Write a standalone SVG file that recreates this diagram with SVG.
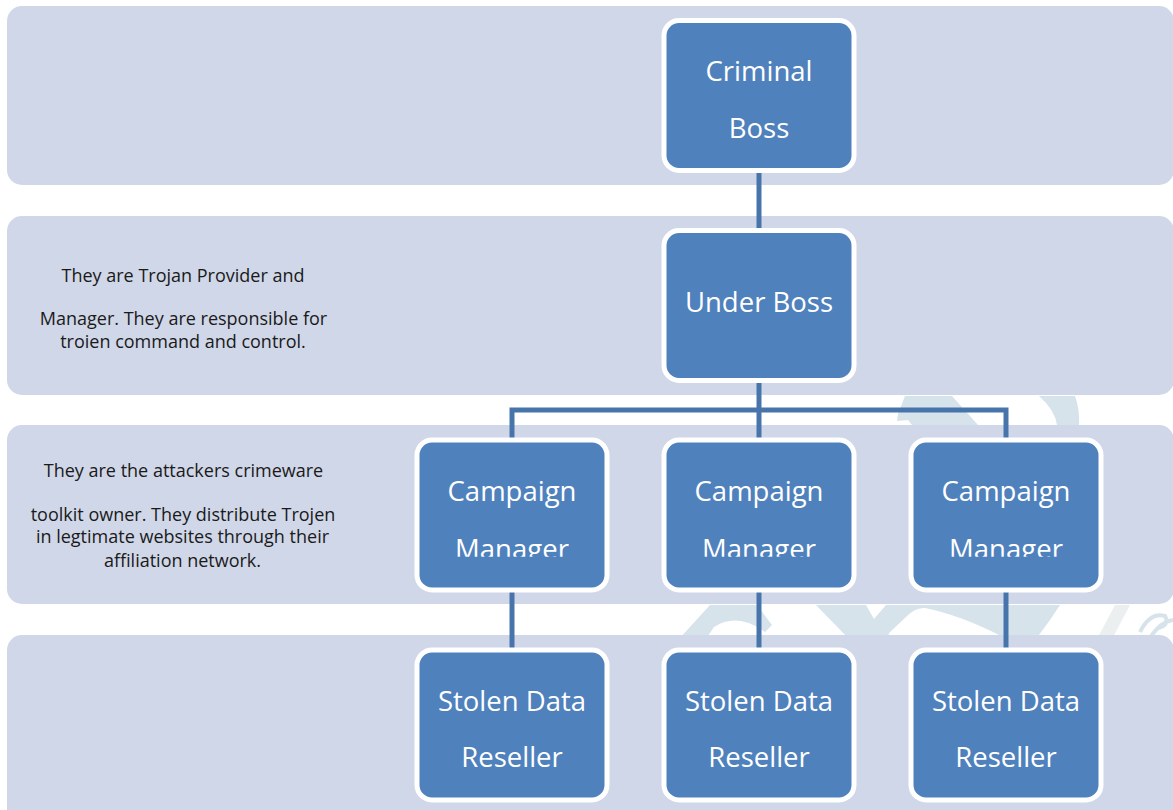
<svg xmlns="http://www.w3.org/2000/svg" width="1173" height="810" viewBox="0 0 1173 810">
<style>
.band{fill:#D0D7E8}
.wm{fill:#D7E3EB}
.node rect{fill:#4F81BD;stroke:#FFFFFF;stroke-width:5}
.nt{font-family:"Open Sans","Liberation Sans",sans-serif;font-size:27.5px;fill:#FFFFFF;text-anchor:middle}
.lt{font-family:"Open Sans","Liberation Sans",sans-serif;font-size:18px;fill:#1A1A1A;text-anchor:middle}
.conn{stroke:#4874AC;stroke-width:5;fill:none}
</style>
<defs>
<clipPath id="clipB2"><rect x="0" y="216" width="400" height="133.5"/></clipPath>
<clipPath id="clipCM"><rect x="0" y="437" width="1173" height="119.7"/></clipPath>
</defs>
<rect width="1173" height="810" fill="#FFFFFF"/>
<g id="watermark">
<path class="wm" d="M905 396 L952 396 L978 425 L912 425 L908 420 L897 421 L898 414 Z"/>
<path class="wm" d="M1039 396 L1075 396 Q1080 410 1079 425 L1057 425 Q1055 410 1039 396 Z"/>
<path class="wm" d="M679 639 L710 605 L757 605 L772 625 L765 632 Q738 612 714 627 L706 639 Z"/>
<path class="wm" d="M816 605 L866 605 L874 619 L886 605 L1060 605 L1050 620 L1036 639 L1002 639 L1001 636 Q960 615 925 608 Q915 607 905 618 L889 633 L888 639 L849 639 Z"/>
<path d="M1097 639 L1115 605 L1130 605 L1112 639 Z" fill="#ECEFF0"/>
<path d="M1140 632 Q1150 612 1165 616 Q1170 625 1158 628 M1150 638 Q1160 622 1173 620" stroke="#D7E3EB" stroke-width="4" fill="none"/>
</g>
<g id="bands">
<rect class="band" x="7" y="6" width="1167" height="179" rx="15"/>
<rect class="band" x="7" y="216" width="1167" height="179" rx="15"/>
<rect class="band" x="7" y="425" width="1167" height="179" rx="15"/>
<rect class="band" x="7" y="635" width="1167" height="190" rx="15"/>
</g>
<g id="band-texts">
<g id="text-underboss" clip-path="url(#clipB2)">
<text class="lt" x="183" y="282">They are Trojan Provider and</text>
<text class="lt" x="183.5" y="325">Manager. They are responsible for</text>
<text class="lt" x="183" y="348">troien command and control.</text>
</g>
<g id="text-campaign">
<text class="lt" x="183.5" y="477">They are the attackers crimeware</text>
<text class="lt" x="183" y="521">toolkit owner. They distribute Trojen</text>
<text class="lt" x="182.5" y="543">in legtimate websites through their</text>
<text class="lt" x="182.5" y="567">affiliation network.</text>
</g>
</g>
<g id="connectors">
<line class="conn" x1="759" y1="172" x2="759" y2="230"/>
<line class="conn" x1="759" y1="382" x2="759" y2="438"/>
<polyline class="conn" points="512,438 512,410 1006,410 1006,438"/>
<line class="conn" x1="512" y1="591" x2="512" y2="649"/>
<line class="conn" x1="759" y1="591" x2="759" y2="649"/>
<line class="conn" x1="1006" y1="591" x2="1006" y2="649"/>
</g>
<g id="criminal-boss" class="node">
<rect x="664" y="20.5" width="190" height="150" rx="15"/>
<text class="nt" x="759" y="81">Criminal</text>
<text class="nt" x="759" y="138">Boss</text>
</g>
<g id="under-boss" class="node">
<rect x="664" y="230.5" width="190" height="150" rx="15"/>
<text class="nt" x="759" y="312">Under Boss</text>
</g>
<g id="campaign-manager-1" class="node">
<rect x="417" y="440" width="190" height="150" rx="15"/>
<g clip-path="url(#clipCM)"><text class="nt" x="512" y="501">Campaign</text><text class="nt" x="512" y="558.5">Manager</text></g>
</g>
<g id="campaign-manager-2" class="node">
<rect x="664" y="440" width="190" height="150" rx="15"/>
<g clip-path="url(#clipCM)"><text class="nt" x="759" y="501">Campaign</text><text class="nt" x="759" y="558.5">Manager</text></g>
</g>
<g id="campaign-manager-3" class="node">
<rect x="911" y="440" width="190" height="150" rx="15"/>
<g clip-path="url(#clipCM)"><text class="nt" x="1006" y="501">Campaign</text><text class="nt" x="1006" y="558.5">Manager</text></g>
</g>
<g id="stolen-data-reseller-1" class="node">
<rect x="417" y="650" width="190" height="150" rx="15"/>
<text class="nt" x="512" y="711">Stolen Data</text>
<text class="nt" x="512" y="767">Reseller</text>
</g>
<g id="stolen-data-reseller-2" class="node">
<rect x="664" y="650" width="190" height="150" rx="15"/>
<text class="nt" x="759" y="711">Stolen Data</text>
<text class="nt" x="759" y="767">Reseller</text>
</g>
<g id="stolen-data-reseller-3" class="node">
<rect x="911" y="650" width="190" height="150" rx="15"/>
<text class="nt" x="1006" y="711">Stolen Data</text>
<text class="nt" x="1006" y="767">Reseller</text>
</g>
</svg>
